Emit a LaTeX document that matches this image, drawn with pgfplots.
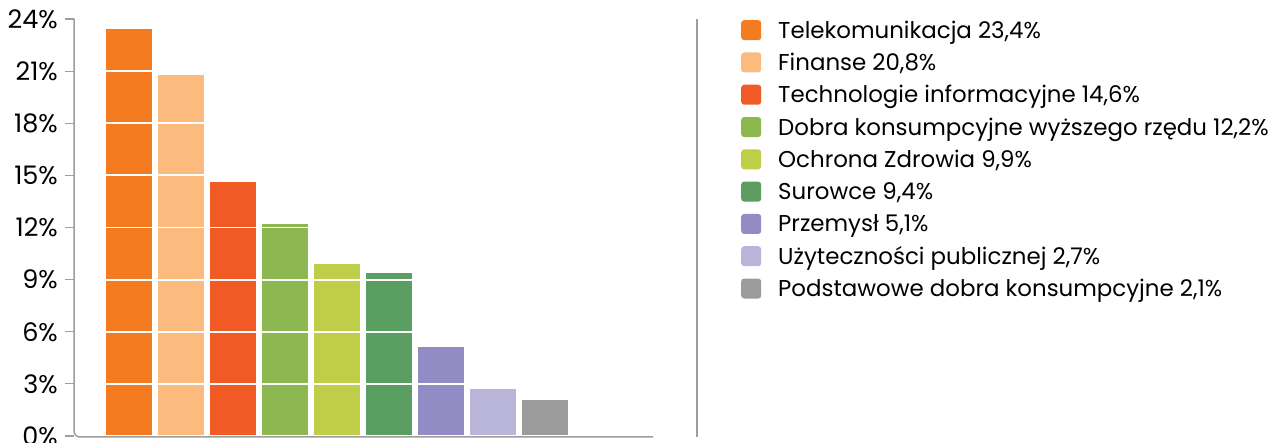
\documentclass[border=0pt]{standalone}
\usepackage{pgfplots}
\pgfplotsset{compat=1.18}
\usepackage{fontspec}
\setmainfont{Poppins}
\definecolor{c1}{HTML}{F47B20}
\definecolor{c2}{HTML}{FBBB7F}
\definecolor{c3}{HTML}{F05A24}
\definecolor{c4}{HTML}{8DB751}
\definecolor{c5}{HTML}{BFCE48}
\definecolor{c6}{HTML}{5A9E62}
\definecolor{c7}{HTML}{918CC3}
\definecolor{c8}{HTML}{B8B5D9}
\definecolor{c9}{HTML}{9B9B9C}
\definecolor{axgray}{HTML}{9D9D9D}
\begin{document}
\begin{tikzpicture}
\useasboundingbox (0,0) rectangle (1286bp,443bp);
\begin{axis}[
  name=ax,
  at={(74bp,7bp)}, anchor=south west,
  scale only axis, width=579bp, height=417bp,
  xmin=-1.058, xmax=10.077, ymin=0, ymax=24,
  ybar, bar width=46bp,
  xtick=\empty,
  ytick={0,3,...,24},
  yticklabel={\pgfmathprintnumber{\tick}\%},
  /pgf/number format/assume math mode=true,
  yticklabel style={font=\fontsize{25.5bp}{28bp}\selectfont, inner sep=0pt, xshift=-7bp},
  axis x line*=bottom, axis y line*=left,
  axis line style={draw=none},
  tick align=outside, major tick length=9bp,
  ytick style={axgray, line width=1.2bp},
  ymajorgrids, grid style={white, line width=1.8bp},
  axis on top,
  legend style={draw=none, fill=none, at={(axis description cs:1.152,1.0125)}, anchor=north west,
    inner sep=0pt, font=\fontsize{22.9bp}{25bp}\selectfont,
    row sep=0pt,
    nodes={minimum height=32.3bp, inner ysep=0pt},
    /tikz/every odd column/.append style={column sep=15bp}},
  legend cell align=left,
  legend image code/.code={\fill[#1, draw=none, rounded corners=3bp] (0bp,-10bp) rectangle (20bp,10bp);},
  b/.style={fill=#1, draw=none, bar shift=0pt},
]
\addplot[b=c1] coordinates {(0,23.4)};
\addplot[b=c2] coordinates {(1,20.8)};
\addplot[b=c3] coordinates {(2,14.6)};
\addplot[b=c4] coordinates {(3,12.2)};
\addplot[b=c5] coordinates {(4,9.9)};
\addplot[b=c6] coordinates {(5,9.4)};
\addplot[b=c7] coordinates {(6,5.1)};
\addplot[b=c8] coordinates {(7,2.7)};
\addplot[b=c9] coordinates {(8,2.1)};
\legend{{Telekomunikacja 23,4\%}, {Finanse 20,8\%}, {Technologie informacyjne 14,6\%}, {Dobra konsumpcyjne wyższego rzędu 12,2\%}, {Ochrona Zdrowia 9,9\%}, {Surowce 9,4\%}, {Przemysł 5,1\%}, {Użyteczności publicznej 2,7\%}, {Podstawowe dobra konsumpcyjne 2,1\%}}
\end{axis}
\draw[axgray, line width=1.5bp, rounded corners=6bp] (ax.north west) -- ([yshift=-1bp]ax.south west) -- ([yshift=-1bp]ax.south east);
\draw[axgray, line width=1.5bp] ([xshift=44bp,yshift=-1bp]ax.south east) -- ([xshift=44bp]ax.north east);
\end{tikzpicture}
\end{document}
